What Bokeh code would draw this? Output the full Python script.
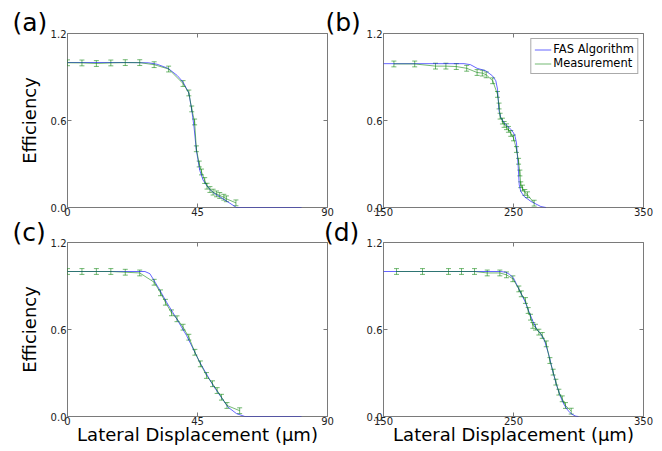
import numpy as np
from bokeh.plotting import figure
from bokeh.models import (Range1d, FixedTicker, LinearAxis, Whisker, TeeHead, ColumnDataSource,
                          Legend, LegendItem, Title)
from bokeh.layouts import column, row
from bokeh.embed import file_html
from bokeh.resources import INLINE

FONT = "DejaVu Sans"

# ---------------- data ----------------
# (a)
meas_a_x = [0, 5, 10, 15, 20, 25, 30, 35, 40, 42, 43, 44, 44.6, 45.6, 46.4, 47.5, 48.3, 49.3, 50.4, 51.6, 52.7, 54.1, 55.0, 58.3]
meas_a_y = [0.998, 0.997, 0.993, 0.997, 0.999, 0.999, 0.985, 0.955, 0.855, 0.79, 0.68, 0.59, 0.405, 0.30, 0.245, 0.186, 0.147, 0.124, 0.106, 0.094, 0.083, 0.071, 0.06, 0.032]
meas_a_err = [0.02, 0.02, 0.02, 0.02, 0.02, 0.02, 0.02, 0.02, 0.02, 0.02, 0.02, 0.02, 0.02, 0.02, 0.02, 0.02, 0.02, 0.02, 0.02, 0.02, 0.02, 0.02, 0.02, 0.02]
fas_a_x = [0, 10, 20, 28, 31, 34.8, 38, 40, 42, 43.1, 43.8, 44.6, 45.8, 46.9, 48.1, 49.3, 50.4, 52.7, 55, 58.5, 65, 81]
fas_a_y = [1.0, 1.0, 1.0, 0.998, 0.988, 0.96, 0.91, 0.865, 0.79, 0.66, 0.555, 0.395, 0.255, 0.19, 0.155, 0.125, 0.103, 0.075, 0.045, 0.0, 0.0, 0.0]

# (b)
meas_b_x = [158, 174, 190, 198, 206, 214, 222, 226, 229, 234, 237.7, 238.9, 239.7, 241.5, 242.8, 244.6, 246.1, 247.9, 250, 252.3, 253.9, 254.9, 255.6, 256.9, 258.7, 260.8, 265.9]
meas_b_y = [0.99, 0.99, 0.975, 0.975, 0.972, 0.96, 0.931, 0.927, 0.915, 0.874, 0.78, 0.70, 0.63, 0.596, 0.573, 0.557, 0.539, 0.511, 0.48, 0.40, 0.319, 0.238, 0.157, 0.134, 0.104, 0.088, 0.03]
meas_b_err = [0.02, 0.02, 0.02, 0.02, 0.02, 0.02, 0.02, 0.02, 0.02, 0.02, 0.02, 0.02, 0.02, 0.02, 0.02, 0.02, 0.02, 0.02, 0.02, 0.02, 0.02, 0.02, 0.02, 0.02, 0.02, 0.02, 0.02]
fas_b_x = [150, 190, 212, 216.9, 222, 228.6, 233.8, 236.4, 237.7, 238.9, 240.2, 242.8, 245, 247.9, 250, 251.2, 252.3, 253.6, 254.4, 255.6, 258.2, 263.4, 271, 275]
fas_b_y = [0.992, 0.992, 0.992, 0.985, 0.96, 0.943, 0.908, 0.874, 0.816, 0.666, 0.62, 0.585, 0.565, 0.539, 0.515, 0.49, 0.446, 0.284, 0.157, 0.111, 0.076, 0.042, 0.007, 0.0]

# (c)
meas_c_x = [0, 5, 10, 15, 20, 25, 30, 32.2, 33.9, 36, 37.9, 40, 42, 44.1, 46, 48.1, 50.2, 51.8, 53.3, 55.2, 59.6]
meas_c_y = [1.0, 1.0, 1.0, 1.0, 0.995, 0.99, 0.926, 0.853, 0.788, 0.715, 0.674, 0.616, 0.547, 0.443, 0.363, 0.283, 0.226, 0.179, 0.133, 0.076, 0.04]
meas_c_err = [0.02, 0.02, 0.02, 0.02, 0.02, 0.02, 0.02, 0.02, 0.02, 0.02, 0.02, 0.02, 0.02, 0.02, 0.02, 0.02, 0.02, 0.02, 0.02, 0.02, 0.02]
fas_c_x = [0, 10, 20, 26.8, 28.5, 29.6, 32, 34.3, 37, 41.2, 45.8, 50.4, 55.6, 58.5, 61.4, 70, 81]
fas_c_y = [1.0, 1.0, 1.0, 1.0, 0.985, 0.95, 0.87, 0.788, 0.7, 0.559, 0.374, 0.214, 0.064, 0.02, 0.0, 0.0, 0.0]

# (d)
meas_d_x = [160, 180, 200, 210, 220, 229.8, 239.5, 244.6, 249.5, 254.1, 256, 259.2, 261.3, 263.1, 264.9, 266.9, 269.5, 272.1, 275.2, 278, 280.5, 282.6, 284.9, 287.5, 290, 294.4]
meas_d_y = [1.0, 1.0, 1.0, 1.0, 1.0, 0.99, 0.99, 0.977, 0.95, 0.88, 0.846, 0.8, 0.731, 0.685, 0.628, 0.616, 0.582, 0.559, 0.501, 0.386, 0.306, 0.237, 0.168, 0.122, 0.076, 0.037]
meas_d_err = [0.02, 0.02, 0.02, 0.02, 0.02, 0.02, 0.02, 0.02, 0.02, 0.02, 0.02, 0.02, 0.02, 0.02, 0.02, 0.02, 0.02, 0.02, 0.02, 0.02, 0.02, 0.02, 0.02, 0.02, 0.02, 0.02]
fas_d_x = [150, 200, 240, 244, 247, 250, 253, 256, 259, 262, 265, 268, 271, 274, 277, 280, 283, 286, 289, 292, 295, 298, 300]
fas_d_y = [1, 1, 1, 0.995, 0.98, 0.955, 0.9, 0.845, 0.79, 0.72, 0.655, 0.6, 0.57, 0.52, 0.43, 0.32, 0.22, 0.14, 0.08, 0.04, 0.015, 0.002, 0]

x_ticks_small = [0, 45, 90]
x_ticks_large = [150, 250, 350]
y_ticks = [0.0, 0.6, 1.2]
y_tick_labels = {0.0: "0.0", 0.6: "0.6", 1.2: "1.2"}
panel_tags = ["(a)", "(b)", "(c)", "(d)"]

BLUE = "#0000ff"
GREEN = "#008000"
FRAME = "#7a7a7a"
GAP = "\u00a0" * 35


def style_axis(ax, ticks, show_labels, standoff=0, overrides=None):
    ax.ticker = FixedTicker(ticks=ticks)
    ax.axis_line_color = None
    ax.major_tick_in = 4
    ax.major_tick_out = 0
    ax.minor_tick_in = 0
    ax.minor_tick_out = 0
    ax.major_tick_line_color = FRAME
    ax.major_label_standoff = standoff
    ax.major_label_text_font = FONT
    ax.major_label_text_color = "#222222"
    if show_labels:
        ax.major_label_text_font_size = "10px"
        if overrides:
            ax.major_label_overrides = overrides
    else:
        ax.major_label_text_font_size = "0px"
        ax.major_label_overrides = {t: "" for t in ticks}


def make_panel(xr, xt, w, h, bl, br, bt, bb, mx, my, me, fx, fy,
               xlabel=False, ylabel=False, tags=None, tag_standoff=-7):
    p = figure(width=w, height=h, x_range=Range1d(*xr), y_range=Range1d(0, 1.2),
               output_backend="svg", toolbar_location=None,
               min_border_left=bl, min_border_right=br, min_border_top=bt, min_border_bottom=bb)
    p.xgrid.visible = False
    p.ygrid.visible = False
    p.outline_line_color = FRAME
    p.outline_line_width = 1
    p.background_fill_color = "white"
    p.border_fill_color = "white"

    bottom = p.below[0]
    left = p.left[0]
    style_axis(bottom, xt, True, standoff=0)
    style_axis(left, y_ticks, True, standoff=1, overrides=y_tick_labels)
    top = LinearAxis()
    style_axis(top, xt, False)
    p.add_layout(top, "above")
    right = LinearAxis()
    style_axis(right, y_ticks, False)
    p.add_layout(right, "right")

    if xlabel:
        bottom.axis_label = "Lateral Displacement (μm)"
        bottom.axis_label_text_font = FONT
        bottom.axis_label_text_font_size = "18px"
        bottom.axis_label_text_font_style = "normal"
        bottom.axis_label_text_color = "black"
        bottom.axis_label_standoff = -4
    if ylabel:
        left.axis_label = "Efficiency"
        left.axis_label_text_font = FONT
        left.axis_label_text_font_size = "18px"
        left.axis_label_text_font_style = "normal"
        left.axis_label_text_color = "black"
        left.axis_label_standoff = 8

    r_fas = p.line(fx, fy, line_color=BLUE, line_alpha=0.6, line_width=1)

    src = ColumnDataSource(dict(x=mx, y=my,
                                lo=[a - b for a, b in zip(my, me)],
                                hi=[a + b for a, b in zip(my, me)]))
    r_meas = p.line("x", "y", source=src, line_color=GREEN, line_alpha=0.55, line_width=1)
    wk = Whisker(base="x", lower="lo", upper="hi", source=src, dimension="height",
                 line_color=GREEN, line_alpha=0.55, line_width=1,
                 upper_head=TeeHead(size=5, line_color=GREEN, line_alpha=0.55, line_width=1),
                 lower_head=TeeHead(size=5, line_color=GREEN, line_alpha=0.55, line_width=1))
    p.add_layout(wk)

    if tags:
        t = Title(text=tags[0] + GAP + tags[1], align="left", offset=-55, standoff=tag_standoff,
                  text_font=FONT, text_font_size="25px", text_font_style="normal",
                  text_color="black")
        p.add_layout(t, "above")
    return p, r_fas, r_meas


pa, _, _ = make_panel((0, 90), x_ticks_small, 362, 219, 67, 35, 33, 12,
                      meas_a_x, meas_a_y, meas_a_err, fas_a_x, fas_a_y, ylabel=True,
                      tags=panel_tags[0:2], tag_standoff=-7)
pb, rb_fas, rb_meas = make_panel((150, 350), x_ticks_large, 300, 219, 21, 19, 33, 12,
                                 meas_b_x, meas_b_y, meas_b_err, fas_b_x, fas_b_y)
pc, _, _ = make_panel((0, 90), x_ticks_small, 362, 232, 67, 35, 23, 35,
                      meas_c_x, meas_c_y, meas_c_err, fas_c_x, fas_c_y, xlabel=True, ylabel=True,
                      tags=panel_tags[2:4], tag_standoff=-9)
pd_, _, _ = make_panel((150, 350), x_ticks_large, 300, 232, 21, 19, 23, 35,
                       meas_d_x, meas_d_y, meas_d_err, fas_d_x, fas_d_y, xlabel=True)

# legend sample for error bar
r_dash = pb.scatter(x=[], y=[], marker="dash", angle=np.pi / 2, size=10,
                    line_color=GREEN, line_alpha=0.55, line_width=1)
legend = Legend(items=[LegendItem(label="FAS Algorithm", renderers=[rb_fas]),
                       LegendItem(label="Measurement", renderers=[rb_meas, r_dash])],
                location="top_right", margin=5, padding=3, spacing=0,
                glyph_width=17, glyph_height=13, label_height=13, label_standoff=2,
                label_text_font=FONT, label_text_font_size="11.5px", label_text_color="black",
                border_line_color="#555555", border_line_width=1,
                background_fill_color="white", background_fill_alpha=1.0)
pb.add_layout(legend)

layout = column(row(pa, pb), row(pc, pd_))
open("out.html", "w").write(file_html(layout, INLINE))
